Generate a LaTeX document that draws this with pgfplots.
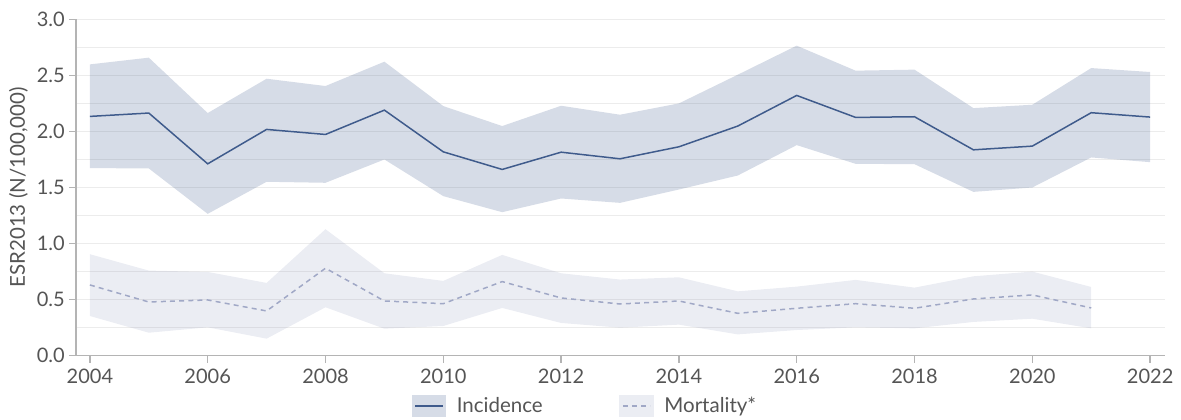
\documentclass[border=0pt]{standalone}
\usepackage{fontspec}
\setmainfont{Lato}
\usepackage{pgfplots}
\usepackage{pgfplotstable}
\pgfplotsset{compat=1.18}
\usepgfplotslibrary{fillbetween}
\definecolor{inccol}{HTML}{3F5B8C}
\definecolor{incband}{HTML}{3F5B8C}
\definecolor{mortcol}{HTML}{A0A8C6}
\definecolor{mortband}{HTML}{8A93B5}
\definecolor{gridgray}{HTML}{ECECEC}
\definecolor{axisgray}{HTML}{B4B4B4}
\definecolor{textgray}{HTML}{555555}

\pgfplotstableread{
year inc lo hi
2004 2.134 1.673 2.598
2005 2.164 1.670 2.658
2006 1.711 1.265 2.164
2007 2.018 1.551 2.470
2008 1.973 1.542 2.405
2009 2.190 1.750 2.622
2010 1.818 1.423 2.226
2011 1.661 1.280 2.048
2012 1.815 1.402 2.229
2013 1.756 1.363 2.149
2014 1.863 1.482 2.250
2015 2.048 1.607 2.506
2016 2.321 1.878 2.765
2017 2.125 1.711 2.542
2018 2.131 1.708 2.551
2019 1.836 1.461 2.208
2020 1.869 1.500 2.238
2021 2.167 1.768 2.565
2022 2.128 1.726 2.530
}\inctable

\pgfplotstableread{
year mort lo hi
2004 0.631 0.354 0.905
2005 0.479 0.205 0.759
2006 0.497 0.253 0.747
2007 0.399 0.152 0.649
2008 0.780 0.432 1.128
2009 0.488 0.241 0.735
2010 0.464 0.265 0.667
2011 0.661 0.426 0.899
2012 0.515 0.292 0.735
2013 0.461 0.250 0.679
2014 0.488 0.277 0.699
2015 0.378 0.190 0.574
2016 0.423 0.229 0.616
2017 0.464 0.253 0.676
2018 0.423 0.244 0.607
2019 0.506 0.301 0.708
2020 0.542 0.330 0.750
2021 0.426 0.244 0.613
}\morttable

\begin{document}
\begin{tikzpicture}
\begin{axis}[
  at={(45.6pt,37.98pt)}, anchor=south west,
  scale only axis, width=653.4pt, height=201.84pt,
  xmin=2003.764, xmax=2022.253, ymin=0, ymax=3,
  axis x line*=bottom, axis y line*=left,
  axis line style={draw=axisgray, line width=0.8pt, -},
  xtick={2004,2006,...,2022},
  ytick={0,0.5,1,1.5,2,2.5,3},
  minor ytick={0.25,0.75,1.25,1.75,2.25,2.75},
  ymajorgrids, yminorgrids,
  major grid style={draw=gridgray, line width=0.6pt},
  minor grid style={draw=gridgray, line width=0.6pt},
  tick align=outside, major tick length=4.2pt, minor tick length=0pt,
  every tick/.style={draw=axisgray, line width=0.8pt},
  /pgf/number format/assume math mode=true,
  ticklabel style={font=\fontsize{12}{14}\selectfont, text=textgray},
  xticklabel style={/pgf/number format/1000 sep={}},
  yticklabel style={/tikz/xshift=1pt, /pgf/number format/.cd, fixed, fixed zerofill, precision=1},
  legend columns=2,
  legend style={at={(axis description cs:0.468,-0.1495)}, anchor=center,
    draw=none, fill=none, font=\fontsize{12.3}{14}\selectfont, text=textgray,
    /tikz/every even column/.append style={column sep=44pt},
    legend cell align=left},
]
\addplot[name path=ih, draw=none, forget plot] table[x=year,y=hi]{\inctable};
\addplot[name path=il, draw=none, forget plot] table[x=year,y=lo]{\inctable};
\addplot[fill=incband, fill opacity=0.21, draw=none, forget plot] fill between[of=ih and il];
\addplot[name path=mh, draw=none, forget plot] table[x=year,y=hi]{\morttable};
\addplot[name path=ml, draw=none, forget plot] table[x=year,y=lo]{\morttable};
\addplot[fill=mortband, fill opacity=0.17, draw=none, forget plot] fill between[of=mh and ml];
\addplot[inccol, line width=0.9pt, forget plot] table[x=year,y=inc]{\inctable};
\addplot[mortcol, line width=0.9pt, dash pattern=on 3pt off 2.5pt, forget plot] table[x=year,y=mort]{\morttable};
\addlegendimage{legend image code/.code={
  \path[fill=incband, fill opacity=0.21, draw=none] (0pt,-6.6pt) rectangle (20.5pt,6.6pt);
  \path[draw=inccol, line width=0.9pt] (2pt,0pt) -- (18.5pt,0pt);
  \path[draw=none] (0pt,0pt) -- (25pt,0pt);}}
\addlegendentry{Incidence}
\addlegendimage{legend image code/.code={
  \path[fill=mortband, fill opacity=0.17, draw=none] (0pt,-6.6pt) rectangle (20.5pt,6.6pt);
  \path[draw=mortcol, line width=0.9pt, dash pattern=on 3pt off 2.5pt] (2pt,0pt) -- (18.5pt,0pt);
  \path[draw=none] (0pt,0pt) -- (25pt,0pt);}}
\addlegendentry{Mortality*}
\end{axis}
\node[rotate=90, anchor=center, text=textgray, font=\fontsize{12.3}{14}\selectfont]
  at (11pt,139pt) {ESR2013 (N/100,000)};
\pgfresetboundingbox
\useasboundingbox (0,0) rectangle (708.6pt,251.4pt);
\end{tikzpicture}
\end{document}
